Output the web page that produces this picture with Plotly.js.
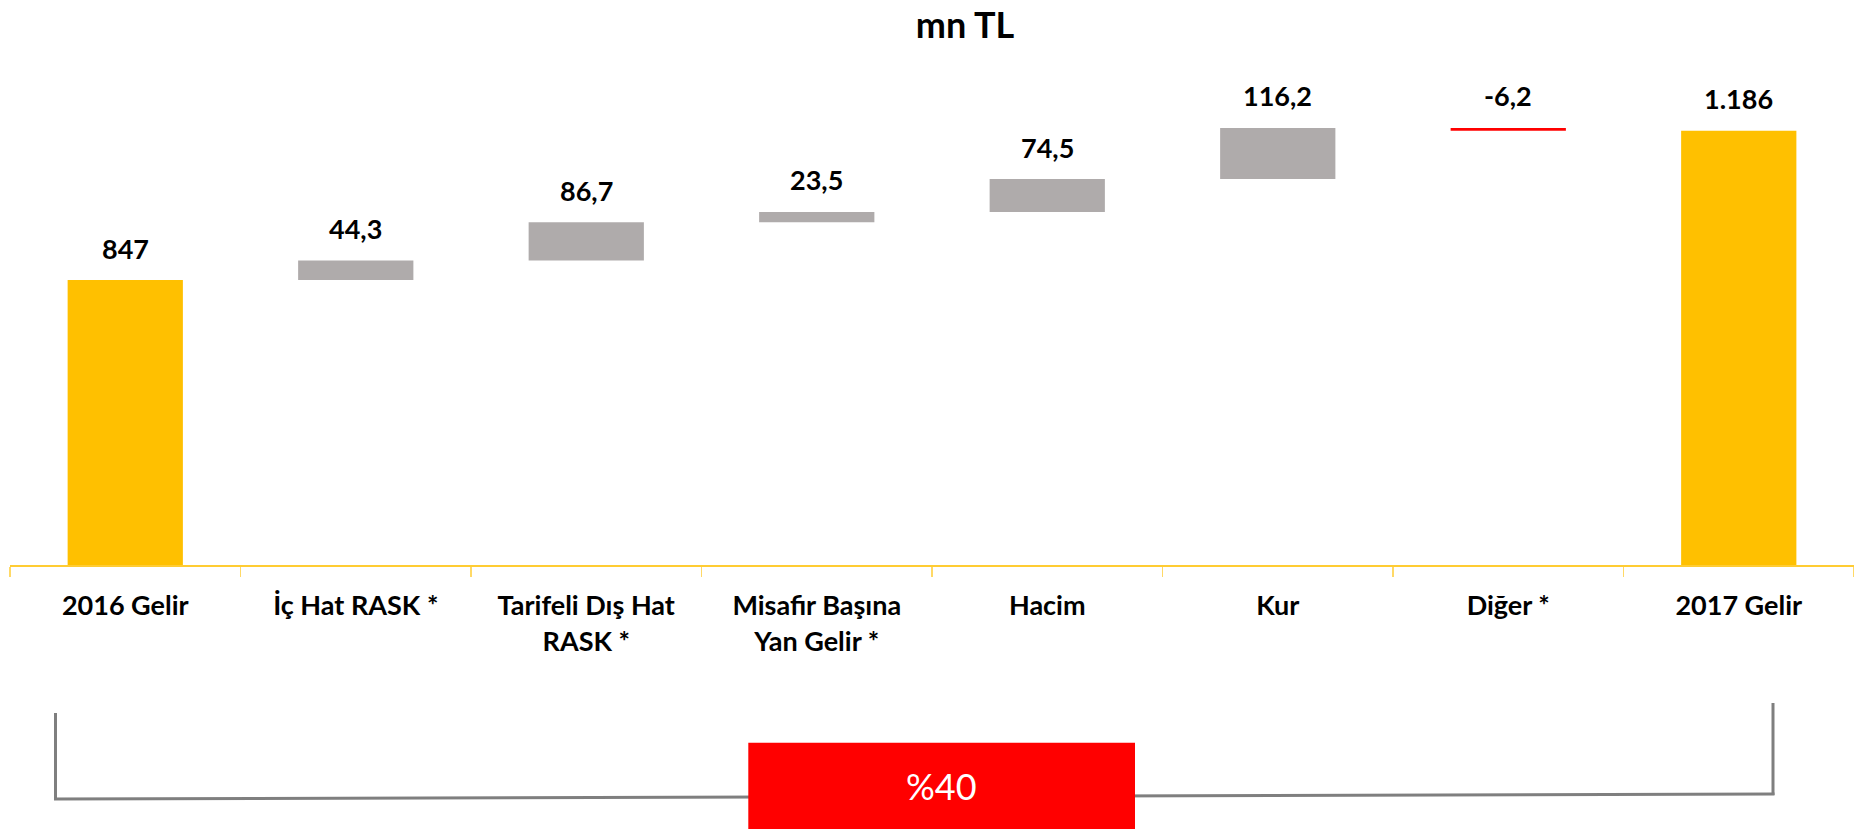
<!DOCTYPE html>
<html>
<head>
<meta charset="utf-8">
<script src="https://cdn.plot.ly/plotly-3.0.1.min.js"></script>
<style>html,body{margin:0;padding:0;background:#fff;}#chart{width:1854px;height:829px;}</style>
</head>
<body>
<div id="chart"></div>
<script>
// ---- data ----
const categories = ["2016 Gelir", "İç Hat RASK *", "Tarifeli Dış Hat<br>RASK *", "Misafir Başına<br>Yan Gelir *", "Hacim", "Kur", "Diğer *", "2017 Gelir"];
const values = [847, 44.3, 86.7, 23.5, 74.5, 116.2, -6.2, 1186];
const measures = ["absolute", "relative", "relative", "relative", "relative", "relative", "relative", "total"];
const valueLabels = ["847", "44,3", "86,7", "23,5", "74,5", "116,2", "-6,2", "1.186"];
const growthLabel = "%40";
const titleText = "mn TL";

// ---- layout helpers (pixel -> paper) ----
const W = 1854, H = 829;
const mL = 10, mR = 0, mT = 40, mB = 264;
const plotW = W - mL - mR, plotH = H - mT - mB;
const px2x = p => (p - mL) / plotW;
const py2y = p => (H - mB - p) / plotH;

const FONT = "Lato, Carlito, Calibri, 'Open Sans', sans-serif";

// label positions from running totals
const tops = [];
let run = 0;
values.forEach((v, i) => {
  let start, end;
  if (measures[i] === "absolute") { start = 0; end = v; run = v; }
  else if (measures[i] === "total") { start = 0; end = run; }
  else { start = run; end = run + v; run = end; }
  tops.push(Math.max(start, end));
});

const trace = {
  type: "waterfall",
  x: categories,
  y: values,
  measure: measures,
  base: 0,
  connector: { visible: false },
  increasing: { marker: { color: "#AFABAB" } },
  decreasing: { marker: { color: "#FF0000" } },
  totals: { marker: { color: "#FFC000" } },
  textinfo: "none",
  hoverinfo: "skip"
};

const annotations = categories.map((c, i) => ({
  x: c, y: tops[i], xref: "x", yref: "y",
  text: "<b>" + valueLabels[i] + "</b>",
  showarrow: false, yanchor: "middle", yshift: 32,
  font: { family: FONT, size: 27, color: "#000" }
}));
annotations.push({
  x: px2x(941.7), y: py2y(786), xref: "paper", yref: "paper",
  text: growthLabel, showarrow: false, xanchor: "center", yanchor: "middle",
  font: { family: FONT, size: 36, color: "#FFFFFF" }
});

const shapes = [
  // bracket
  { type: "line", xref: "paper", yref: "paper", x0: px2x(55.5), y0: py2y(713), x1: px2x(55.5), y1: py2y(800), line: { color: "#7F7F7F", width: 3 } },
  { type: "line", xref: "paper", yref: "paper", x0: px2x(1773), y0: py2y(703), x1: px2x(1773), y1: py2y(795), line: { color: "#7F7F7F", width: 3 } },
  { type: "line", xref: "paper", yref: "paper", x0: px2x(54), y0: py2y(799), x1: px2x(1774.5), y1: py2y(794), line: { color: "#7F7F7F", width: 3 } },
  // red box
  { type: "rect", xref: "paper", yref: "paper", x0: px2x(748.3), y0: py2y(742.7), x1: px2x(1135), y1: py2y(840), line: { width: 0 }, fillcolor: "#FF0000" }
];

const layout = {
  width: W, height: H,
  margin: { l: mL, r: mR, t: mT, b: mB, pad: 0 },
  paper_bgcolor: "#FFFFFF", plot_bgcolor: "#FFFFFF",
  showlegend: false,
  waterfallgap: 0.5,
  title: {
    text: "<b>" + titleText + "</b>",
    x: 965 / W, xref: "container", xanchor: "center",
    y: 1 - 25 / H, yref: "container", yanchor: "middle",
    font: { family: FONT, size: 36, color: "#000" }
  },
  xaxis: {
    type: "category",
    showline: true, linecolor: "#FFCC33", linewidth: 2,
    ticks: "outside", tickson: "boundaries", ticklen: 10, tickwidth: 1.5, tickcolor: "#FFD966",
    ticklabelstandoff: 16,
    tickfont: { family: FONT, size: 27, color: "#000", weight: "bold" },
    showgrid: false, zeroline: false, fixedrange: true
  },
  yaxis: {
    visible: false, range: [200, 200 + plotH / 0.4405],
    showgrid: false, zeroline: false, fixedrange: true
  },
  annotations: annotations,
  shapes: shapes
};

Plotly.newPlot("chart", [trace], layout, { displayModeBar: false, staticPlot: true });
</script>
</body>
</html>
